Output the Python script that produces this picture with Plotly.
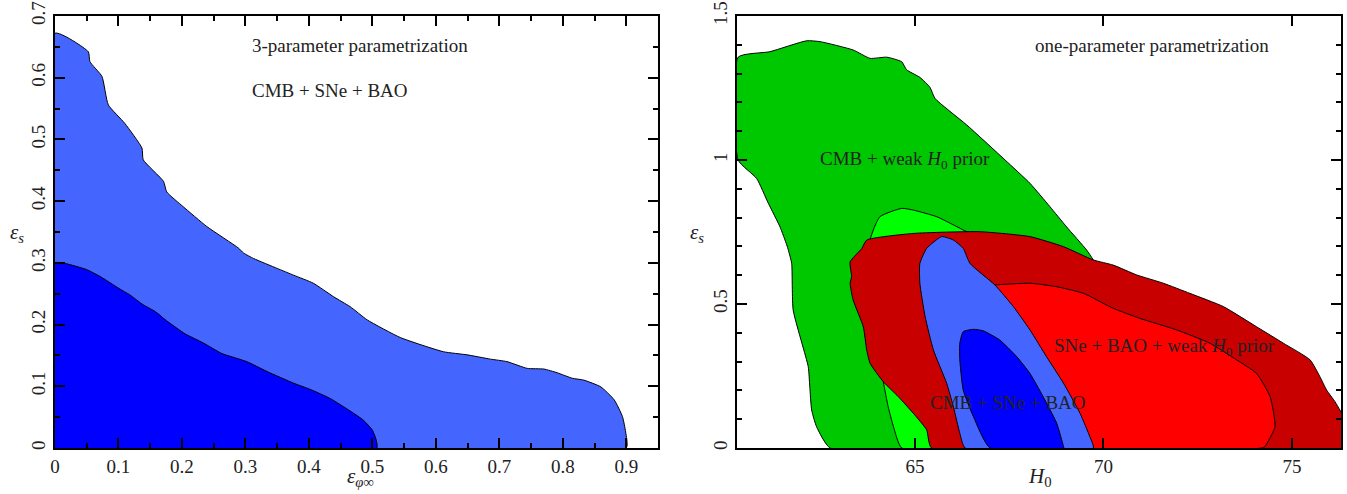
import plotly.graph_objects as go

# ---------------- Left panel: 3-parameter parametrization ----------------
left_outer_x = [0, 0, 0.0525, 0.055, 0.074, 0.084, 0.110, 0.137, 0.139, 0.171, 0.176, 0.202, 0.239,
                0.289, 0.297, 0.313, 0.350, 0.376, 0.407, 0.439, 0.465, 0.492, 0.544, 0.612, 0.649,
                0.686, 0.712, 0.744, 0.770, 0.791, 0.815, 0.833, 0.860, 0.881, 0.894, 0.899, 0.900, 0]
left_outer_y = [0, 0.672, 0.642, 0.626, 0.602, 0.556, 0.526, 0.486, 0.467, 0.432, 0.415, 0.391, 0.359,
                0.324, 0.316, 0.307, 0.291, 0.280, 0.267, 0.245, 0.229, 0.2075, 0.179, 0.156, 0.151,
                0.144, 0.140, 0.129, 0.128, 0.122, 0.113, 0.110, 0.099, 0.078, 0.051, 0.026, 0, 0]

left_inner_x = [0, 0, 0.016, 0.050, 0.071, 0.100, 0.118, 0.139, 0.158, 0.176, 0.205, 0.234, 0.263,
                0.302, 0.334, 0.376, 0.402, 0.434, 0.465, 0.486, 0.500, 0.506, 0.507, 0]
left_inner_y = [0, 0.300, 0.299, 0.289, 0.278, 0.259, 0.248, 0.232, 0.221, 0.206, 0.185, 0.170, 0.153,
                0.140, 0.124, 0.105, 0.095, 0.080, 0.060, 0.045, 0.029, 0.013, 0, 0]

# ---------------- Right panel: one-parameter parametrization ----------------
cmb_outer_x = [60.31, 60.31, 61.15, 62.13, 62.48, 63.36, 63.81, 64.25, 64.65, 64.78, 65.13, 65.40, 65.53,
               66.37, 67.39, 68.05, 68.58, 69.02, 69.55, 69.73, 70.6, 69.0, 67.0, 62.75, 62.39,
               62.26, 62.21, 62.17, 61.77, 61.73, 61.64, 61.60, 61.42, 61.11, 60.80, 60.31]
cmb_outer_y = [1.0, 1.357, 1.376, 1.414, 1.411, 1.382, 1.353, 1.357, 1.341, 1.313, 1.287, 1.252, 1.214,
               1.122, 1.000, 0.919, 0.838, 0.768, 0.688, 0.653, 0.45, 0.1, 0, 0, 0.074,
               0.132, 0.213, 0.282, 0.479, 0.641, 0.688, 0.705, 0.768, 0.850, 0.936, 1.0]

cmb_inner_x = [64.65, 64.43, 64.29, 64.16, 63.9, 63.81, 64.07, 64.65, 64.96, 65.58, 66.28, 66.8, 67.2, 66.8, 64.65]
cmb_inner_y = [0, 0.074, 0.143, 0.230, 0.45, 0.722, 0.803, 0.832, 0.826, 0.803, 0.757, 0.72, 0.4, 0, 0]

sne_outer_x = [65.44, 65.31, 64.96, 64.56, 64.16, 63.81, 63.72, 63.63, 63.36, 63.28, 63.32, 63.28, 63.59,
               63.72, 64.96, 66.72, 68.05, 68.94, 69.73, 70.26, 70.88, 71.59, 72.29, 73.18, 74.06,
               74.77, 75.48, 75.74, 75.92, 76.14, 76.27, 76.6, 76.6, 65.44]
sne_outer_y = [0, 0.063, 0.120, 0.178, 0.230, 0.294, 0.340, 0.421, 0.514, 0.572, 0.595, 0.646, 0.693,
               0.722, 0.745, 0.751, 0.734, 0.699, 0.653, 0.635, 0.601, 0.572, 0.537, 0.491, 0.421,
               0.364, 0.306, 0.248, 0.201, 0.161, 0.132, 0.05, 0, 0]

sne_inner_x = [68.9, 68.6, 68.0, 67.3, 66.8, 67.12, 68.05, 68.76, 69.47, 70.26, 70.97, 71.94, 72.82,
               73.53, 74.06, 74.42, 74.55, 74.28, 74.2, 68.9]
sne_inner_y = [0, 0.12, 0.30, 0.45, 0.56, 0.566, 0.572, 0.560, 0.537, 0.485, 0.450, 0.410, 0.364,
               0.306, 0.259, 0.178, 0.074, 0.005, 0, 0]

all_outer_x = [66.33, 66.19, 66.02, 65.84, 65.49, 65.27, 65.13, 65.13, 65.31, 65.71, 66.02, 66.28, 66.46,
               67.12, 67.61, 68.05, 68.49, 68.94, 69.38, 69.64, 69.73, 66.33]
all_outer_y = [0, 0.051, 0.143, 0.225, 0.340, 0.456, 0.572, 0.641, 0.693, 0.734, 0.722, 0.693, 0.641,
               0.566, 0.491, 0.410, 0.317, 0.225, 0.120, 0.039, 0, 0]

all_inner_x = [66.99, 66.55, 66.28, 66.19, 66.19, 66.28, 66.55, 66.81, 67.25, 67.70, 68.05, 68.40, 68.76,
               68.94, 68.95, 66.99]
all_inner_y = [0, 0.109, 0.201, 0.306, 0.364, 0.404, 0.412, 0.407, 0.375, 0.317, 0.259, 0.178, 0.086,
               0.005, 0, 0]

left_xticks = [0, 0.1, 0.2, 0.3, 0.4, 0.5, 0.6, 0.7, 0.8, 0.9]
left_yticks = [0, 0.1, 0.2, 0.3, 0.4, 0.5, 0.6, 0.7]
right_xticks = [65, 70, 75]
right_yticks = [0, 0.5, 1, 1.5]
right_ytext = ["0", "0.5", "1", "1.5"]

SERIF = "Liberation Serif"
W, H = 1347, 494

fig = go.Figure()


def poly(x, y, color, xa, ya):
    fig.add_trace(go.Scatter(x=x, y=y, fill="toself", fillcolor=color, mode="lines",
                             line=dict(color="black", width=1, shape="spline", smoothing=0.5),
                             xaxis=xa, yaxis=ya, showlegend=False, hoverinfo="skip"))


poly(left_outer_x, left_outer_y, "#4466FF", "x", "y")
poly(left_inner_x, left_inner_y, "#0000FF", "x", "y")

poly(cmb_outer_x, cmb_outer_y, "#00C800", "x2", "y2")
poly(cmb_inner_x, cmb_inner_y, "#00FF00", "x2", "y2")
poly(sne_outer_x, sne_outer_y, "#C80000", "x2", "y2")
poly(sne_inner_x, sne_inner_y, "#FF0000", "x2", "y2")
poly(all_outer_x, all_outer_y, "#4466FF", "x2", "y2")
poly(all_inner_x, all_inner_y, "#0000FF", "x2", "y2")

axis_common = dict(showline=True, linecolor="black", linewidth=2, mirror="allticks", ticks="inside",
                   tickcolor="black", tickwidth=2, ticklen=10, showgrid=False, zeroline=False,
                   automargin=False, layer="above traces",
                   tickfont=dict(family=SERIF, size=19, color="#222"))

y_top = 1 - 16 / H
y_bot = 1 - 448 / H

fig.update_layout(
    width=W, height=H, margin=dict(l=0, r=0, t=0, b=0, autoexpand=False),
    paper_bgcolor="white", plot_bgcolor="white",
    xaxis=dict(domain=[55 / W, 658 / W], range=[0, 0.95], tickvals=left_xticks,
               ticktext=[("%g" % v) for v in left_xticks], anchor="y",
               minor=dict(tickvals=[0.05, 0.15, 0.25, 0.35, 0.45, 0.55, 0.65, 0.75, 0.85],
                          ticks="inside", ticklen=5, tickwidth=2, tickcolor="black"),
               **axis_common),
    yaxis=dict(domain=[y_bot, y_top], range=[0, 0.7], tickvals=left_yticks,
               ticktext=[("%g" % v) for v in left_yticks], tickangle=-90, anchor="x",
               minor=dict(tickvals=[0.05, 0.15, 0.25, 0.35, 0.45, 0.55, 0.65],
                          ticks="inside", ticklen=5, tickwidth=2, tickcolor="black"),
               **axis_common),
    xaxis2=dict(domain=[737 / W, 1341 / W], range=[60.28, 76.3], tickvals=right_xticks,
                ticktext=[str(v) for v in right_xticks], anchor="y2", **axis_common),
    yaxis2=dict(domain=[y_bot, y_top], range=[0, 1.5], tickvals=right_yticks, ticktext=right_ytext,
                tickangle=-90, anchor="x2",
                minor=dict(tickvals=[0.1, 0.2, 0.3, 0.4, 0.6, 0.7, 0.8, 0.9, 1.1, 1.2, 1.3, 1.4],
                           ticks="inside", ticklen=5, tickwidth=2, tickcolor="black"),
                **axis_common),
)

txt = dict(family=SERIF, size=19, color="#222")
ttl = dict(family=SERIF, size=21, color="#222")
ann = [
    dict(x=250 / W, y=1 - 46 / H, text="3-parameter parametrization", xanchor="left", font=txt),
    dict(x=250 / W, y=1 - 90 / H, text="CMB + SNe + BAO", xanchor="left", font=txt),
    dict(x=1033 / W, y=1 - 45 / H, text="one-parameter parametrization", xanchor="left", font=txt),
    dict(x=818 / W, y=1 - 160 / H, text="CMB + weak <i>H</i><sub>0</sub> prior", xanchor="left", font=txt),
    dict(x=1052 / W, y=1 - 347 / H, text="SNe + BAO + weak <i>H</i><sub>0</sub> prior", xanchor="left", font=txt),
    dict(x=928 / W, y=1 - 402 / H, text="CMB + SNe + BAO", xanchor="left", font=txt),
    dict(x=360 / W, y=1 - 477 / H, text="<i>ε</i><sub><i>φ</i>∞</sub>", xanchor="center", font=ttl),
    dict(x=1040 / W, y=1 - 477 / H, text="<i>H</i><sub>0</sub>", xanchor="center", font=ttl),
    dict(x=17 / W, y=1 - 233 / H, text="<i>ε</i><sub><i>s</i></sub>", xanchor="center", font=ttl),
    dict(x=697 / W, y=1 - 233 / H, text="<i>ε</i><sub><i>s</i></sub>", xanchor="center", font=ttl),
]
for a in ann:
    fig.add_annotation(xref="paper", yref="paper", yanchor="middle", showarrow=False, **a)

fig.write_html("out.html", config={"displayModeBar": False},
               post_script="document.body.style.margin='0px';document.body.style.overflow='hidden';")
